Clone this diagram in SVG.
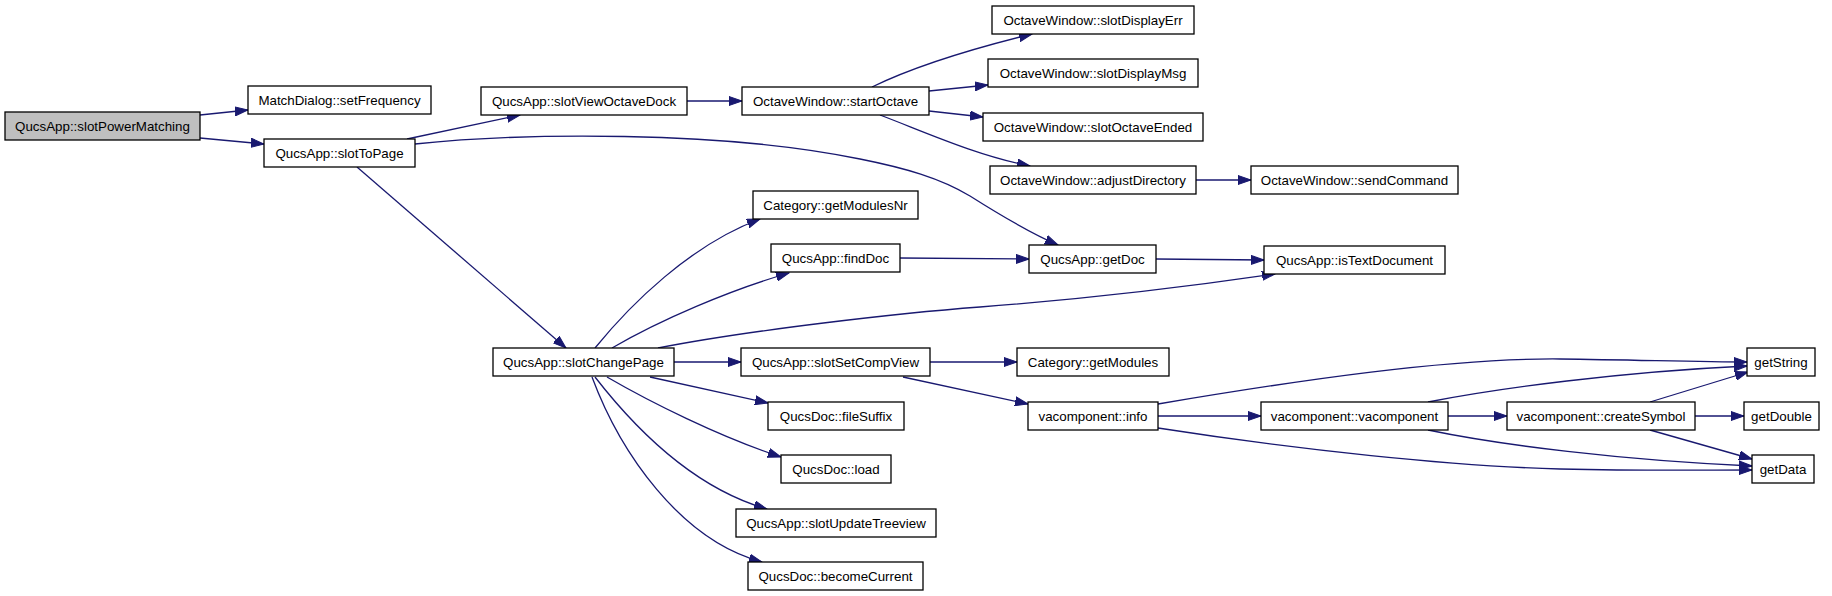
<svg xmlns="http://www.w3.org/2000/svg" width="1832" height="596" viewBox="0 0 1832 596">
<style>
.n rect{fill:#ffffff;stroke:#000000;stroke-width:1.3}
.n.root rect{fill:#bfbfbf}
.n text{font-family:"Liberation Sans",Arial,sans-serif;font-size:13.33px;fill:#000000;text-anchor:middle}
.e path{fill:none;stroke:#191970;stroke-width:1.3;marker-end:url(#ah)}
</style>
<defs>
<marker id="ah" markerUnits="userSpaceOnUse" viewBox="0 0 14 10" markerWidth="14" markerHeight="10" refX="13" refY="5" orient="auto">
<path d="M0,0.5 L13,5 L0,9.5 z" fill="#191970" stroke="#191970" stroke-width="1"/>
</marker>
</defs>
<rect width="1832" height="596" fill="#ffffff"/>
<g id="edges" class="e">
<path d="M200,115 L248,110"/>
<path d="M200,138 L264,144"/>
<path d="M407,139 L520,115"/>
<path d="M415,144 C520,133 720,130 860,159 C905,168 940,178 970,196 C1000,215 1030,233 1058,245"/>
<path d="M357,167 L566,348"/>
<path d="M687,101 L742,101"/>
<path d="M872,87 C915,66 975,48 1032,34"/>
<path d="M929,91 L988,85"/>
<path d="M929,111 L983,117"/>
<path d="M880,115 C925,132 975,155 1030,166"/>
<path d="M1196,180 L1251,180"/>
<path d="M595,348 C630,305 690,245 760,219"/>
<path d="M612,348 C660,320 730,290 789,273"/>
<path d="M658,348 C750,330 900,313 980,307 C1100,298 1200,285 1275,274"/>
<path d="M674,362 L741,362"/>
<path d="M650,377 L768,403"/>
<path d="M607,377 C650,402 720,437 781,457"/>
<path d="M595,377 C630,422 690,487 767,509"/>
<path d="M592,377 C620,452 680,540 762,562"/>
<path d="M900,258 L1029,259"/>
<path d="M1156,259 L1264,260"/>
<path d="M930,362 L1017,362"/>
<path d="M903,377 L1028,404"/>
<path d="M1158,416 L1261,416"/>
<path d="M1158,404 C1300,380 1450,358 1560,359 C1640,360 1700,362 1747,362"/>
<path d="M1158,428 C1300,450 1450,466 1560,469 C1650,471 1700,470 1752,470"/>
<path d="M1428,402 C1500,388 1620,372 1747,366"/>
<path d="M1428,430 C1500,445 1620,460 1752,466"/>
<path d="M1448,416 L1507,416"/>
<path d="M1650,402 L1748,372"/>
<path d="M1695,416 L1744,416"/>
<path d="M1650,430 L1752,459"/>
</g>
<g id="n_slotPowerMatching" class="n root"><rect x="5" y="112" width="195" height="28"/><text x="102.5" y="130.5">QucsApp::slotPowerMatching</text></g>
<g id="n_setFrequency" class="n"><rect x="248" y="86" width="183" height="28"/><text x="339.5" y="104.5">MatchDialog::setFrequency</text></g>
<g id="n_slotToPage" class="n"><rect x="264" y="139" width="151" height="28"/><text x="339.5" y="157.5">QucsApp::slotToPage</text></g>
<g id="n_slotViewOctaveDock" class="n"><rect x="481" y="87" width="206" height="28"/><text x="584" y="105.5">QucsApp::slotViewOctaveDock</text></g>
<g id="n_startOctave" class="n"><rect x="742" y="87" width="187" height="28"/><text x="835.5" y="105.5">OctaveWindow::startOctave</text></g>
<g id="n_slotDisplayErr" class="n"><rect x="992" y="6" width="202" height="28"/><text x="1093" y="24.5">OctaveWindow::slotDisplayErr</text></g>
<g id="n_slotDisplayMsg" class="n"><rect x="988" y="59" width="210" height="28"/><text x="1093" y="77.5">OctaveWindow::slotDisplayMsg</text></g>
<g id="n_slotOctaveEnded" class="n"><rect x="983" y="113" width="220" height="28"/><text x="1093" y="131.5">OctaveWindow::slotOctaveEnded</text></g>
<g id="n_adjustDirectory" class="n"><rect x="990" y="166" width="206" height="28"/><text x="1093" y="184.5">OctaveWindow::adjustDirectory</text></g>
<g id="n_sendCommand" class="n"><rect x="1251" y="166" width="207" height="28"/><text x="1354.5" y="184.5">OctaveWindow::sendCommand</text></g>
<g id="n_getModulesNr" class="n"><rect x="753" y="191" width="165" height="28"/><text x="835.5" y="209.5">Category::getModulesNr</text></g>
<g id="n_findDoc" class="n"><rect x="771" y="244" width="129" height="28"/><text x="835.5" y="262.5">QucsApp::findDoc</text></g>
<g id="n_getDoc" class="n"><rect x="1029" y="245" width="127" height="28"/><text x="1092.5" y="263.5">QucsApp::getDoc</text></g>
<g id="n_isTextDocument" class="n"><rect x="1264" y="246" width="181" height="28"/><text x="1354.5" y="264.5">QucsApp::isTextDocument</text></g>
<g id="n_slotChangePage" class="n"><rect x="493" y="348" width="181" height="28"/><text x="583.5" y="366.5">QucsApp::slotChangePage</text></g>
<g id="n_slotSetCompView" class="n"><rect x="741" y="348" width="189" height="28"/><text x="835.5" y="366.5">QucsApp::slotSetCompView</text></g>
<g id="n_getModules" class="n"><rect x="1017" y="348" width="152" height="28"/><text x="1093" y="366.5">Category::getModules</text></g>
<g id="n_getString" class="n"><rect x="1747" y="348" width="68" height="28"/><text x="1781" y="366.5">getString</text></g>
<g id="n_info" class="n"><rect x="1028" y="402" width="130" height="28"/><text x="1093" y="420.5">vacomponent::info</text></g>
<g id="n_vacomponent" class="n"><rect x="1261" y="402" width="187" height="28"/><text x="1354.5" y="420.5">vacomponent::vacomponent</text></g>
<g id="n_createSymbol" class="n"><rect x="1507" y="402" width="188" height="28"/><text x="1601" y="420.5">vacomponent::createSymbol</text></g>
<g id="n_getDouble" class="n"><rect x="1744" y="402" width="75" height="28"/><text x="1781.5" y="420.5">getDouble</text></g>
<g id="n_getData" class="n"><rect x="1752" y="455" width="62" height="28"/><text x="1783" y="473.5">getData</text></g>
<g id="n_fileSuffix" class="n"><rect x="768" y="402" width="136" height="28"/><text x="836" y="420.5">QucsDoc::fileSuffix</text></g>
<g id="n_load" class="n"><rect x="781" y="455" width="110" height="28"/><text x="836" y="473.5">QucsDoc::load</text></g>
<g id="n_slotUpdateTreeview" class="n"><rect x="736" y="509" width="200" height="28"/><text x="836" y="527.5">QucsApp::slotUpdateTreeview</text></g>
<g id="n_becomeCurrent" class="n"><rect x="748" y="562" width="175" height="28"/><text x="835.5" y="580.5">QucsDoc::becomeCurrent</text></g>
</svg>
